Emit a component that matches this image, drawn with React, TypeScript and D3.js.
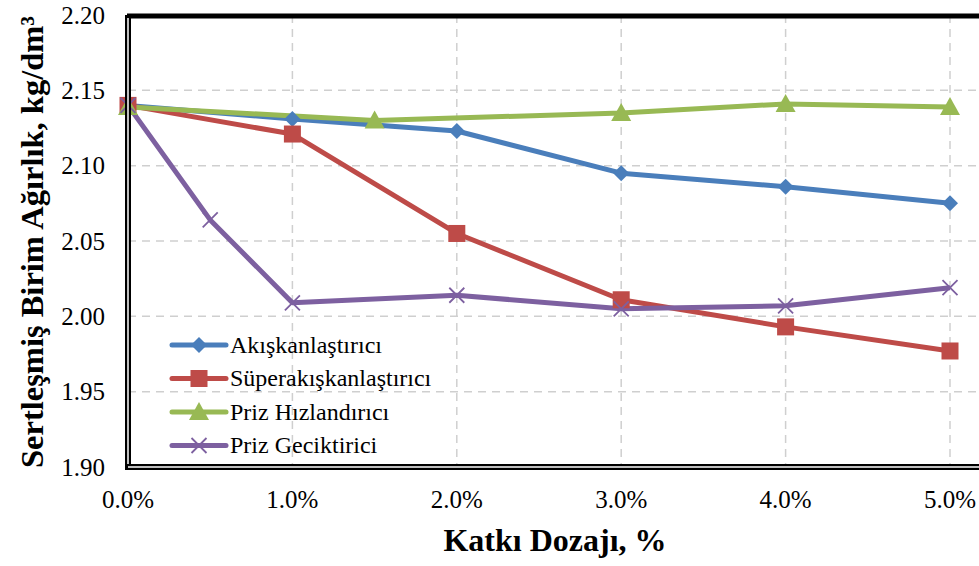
import React from "react";
import * as d3 from "d3";

const series = [
  { name: "Akışkanlaştırıcı", color: "#4a7ebb", marker: "diamond", x: [0, 1, 2, 3, 4, 5], y: [2.14, 2.131, 2.123, 2.095, 2.086, 2.075] },
  { name: "Süperakışkanlaştırıcı", color: "#be4b48", marker: "square", x: [0, 1, 2, 3, 4, 5], y: [2.14, 2.121, 2.055, 2.011, 1.993, 1.977] },
  { name: "Priz Hızlandırıcı", color: "#98b954", marker: "triangle", x: [0, 1.5, 3, 4, 5], y: [2.139, 2.13, 2.135, 2.141, 2.139] },
  { name: "Priz Geciktirici", color: "#7d60a0", marker: "x", x: [0, 0.5, 1, 2, 3, 4, 5], y: [2.14, 2.064, 2.009, 2.014, 2.005, 2.007, 2.019] },
];
const xTicks = [0, 1, 2, 3, 4, 5];
const yTicks = [1.9, 1.95, 2.0, 2.05, 2.1, 2.15, 2.2];
const xTitle = "Katkı Dozajı, %";
const yTitle = "Sertleşmiş Birim Ağırlık, kg/dm³";

const W = 979, H = 566;
const x = d3.scaleLinear().domain([0, 5]).range([128, 950]);
const y = d3.scaleLinear().domain([1.9, 2.2]).range([467, 15]);
const font = "'Liberation Serif', 'Times New Roman', serif";

function Marker({ type, cx, cy, color }: { type: string; cx: number; cy: number; color: string }) {
  if (type === "diamond") {
    const r = 8;
    return <path d={`M${cx},${cy - r}L${cx + r},${cy}L${cx},${cy + r}L${cx - r},${cy}Z`} fill={color} />;
  }
  if (type === "square") {
    const s = 17;
    return <rect x={cx - s / 2} y={cy - s / 2} width={s} height={s} fill={color} />;
  }
  if (type === "triangle") {
    const s = 10;
    return <path d={`M${cx},${cy - s}L${cx + s},${cy + s * 0.8}L${cx - s},${cy + s * 0.8}Z`} fill={color} />;
  }
  const r = 7.5;
  return (
    <path d={`M${cx - r},${cy - r}L${cx + r},${cy + r}M${cx - r},${cy + r}L${cx + r},${cy - r}`} stroke={color} strokeWidth={1.8} fill="none" />
  );
}

export default function App() {
  const line = d3.line<[number, number]>().x((d) => x(d[0])).y((d) => y(d[1]));
  const left = 128, top = 15, bottom = 467;
  return (
    <svg width={W} height={H} style={{ position: "absolute", left: 0, top: 0, background: "#fff" }} fontFamily={font}>
      {/* grid */}
      {yTicks.filter((t) => t > 1.9 && t < 2.2).map((t) => (
        <line key={"gy" + t} x1={left} x2={W} y1={y(t)} y2={y(t)} stroke="#cfcfcf" strokeWidth={1.5} strokeDasharray="8,6" />
      ))}
      {xTicks.filter((t) => t > 0).map((t) => (
        <line key={"gx" + t} x1={x(t)} x2={x(t)} y1={top} y2={bottom} stroke="#cfcfcf" strokeWidth={1.5} strokeDasharray="8,6" />
      ))}
      {/* series */}
      {series.map((s) => (
        <path key={s.name} d={line(s.x.map((v, i) => [v, s.y[i]]) as [number, number][]) || ""} fill="none" stroke={s.color} strokeWidth={5} strokeLinejoin="round" />
      ))}
      {series.map((s) =>
        s.x.map((v, i) => <Marker key={s.name + i} type={s.marker} cx={x(v)} cy={y(s.y[i])} color={s.color} />)
      )}
      {/* frame */}
      <line x1={left - 1} x2={W} y1={top + 1} y2={top + 1} stroke="#000" strokeWidth={5} />
      <line x1={left} x2={left} y1={top} y2={bottom + 3} stroke="#000" strokeWidth={6} />
      <line x1={left} x2={left} y1={top + 3} y2={bottom} stroke="#fff" strokeWidth={1.5} />
      <line x1={left - 3} x2={W} y1={bottom} y2={bottom} stroke="#000" strokeWidth={6} />
      <line x1={left} x2={W} y1={bottom} y2={bottom} stroke="#fff" strokeWidth={1.5} />
      {/* ticks */}
      {yTicks.map((t) => (
        <text key={"ty" + t} x={105} y={y(t)} dy="0.35em" textAnchor="end" fontSize={25}>{t.toFixed(2)}</text>
      ))}
      {xTicks.map((t) => (
        <text key={"tx" + t} x={x(t)} y={508} textAnchor="middle" fontSize={25}>{t.toFixed(1) + "%"}</text>
      ))}
      {/* titles */}
      <text x={555} y={551} textAnchor="middle" fontSize={32} fontWeight="bold">{xTitle}</text>
      <text transform={`translate(43,242) rotate(-90)`} textAnchor="middle" fontSize={32.5} fontWeight="bold">{yTitle}</text>
      {/* legend */}
      {series.map((s, i) => {
        const ly = 345 + i * 33.5;
        return (
          <g key={"lg" + s.name}>
            <line x1={172} x2={226} y1={ly} y2={ly} stroke={s.color} strokeWidth={5} strokeLinecap="round" />
            <Marker type={s.marker} cx={199} cy={ly} color={s.color} />
            <text x={230} y={ly} dy="0.33em" fontSize={24}>{s.name}</text>
          </g>
        );
      })}
    </svg>
  );
}
